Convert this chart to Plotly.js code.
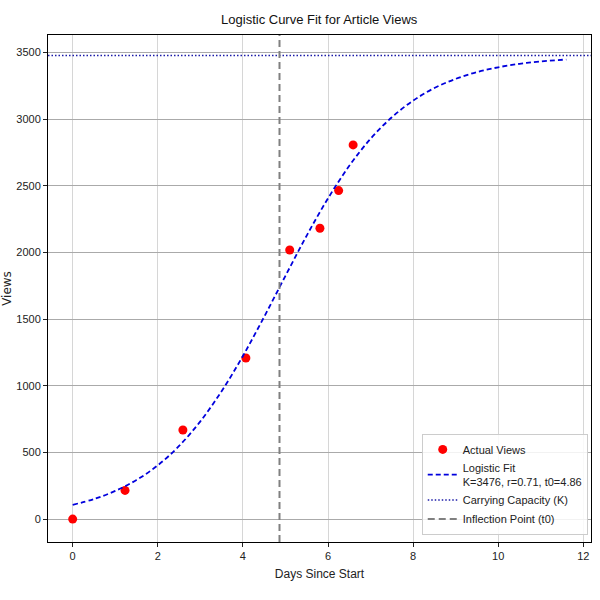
<!DOCTYPE html>
<html>
<head>
<meta charset="utf-8">
<script src="https://cdn.plot.ly/plotly-3.0.1.min.js"></script>
<style>
  html, body { margin: 0; padding: 0; background: #fff; }
  #chart { width: 600px; height: 600px; }
</style>
</head>
<body>
<div id="chart"></div>
<script>
const days = [0, 1.23, 2.59, 4.07, 5.10, 5.81, 6.25, 6.59];
const views = [0, 215, 668, 1208, 2018, 2181, 2463, 2806];

// fitted curve, sampled along the dashed line
const fitDays = [0, 0.5, 1, 1.5, 2, 2.5, 3, 3.5, 4, 4.5, 5, 5.5, 6, 6.5, 7, 7.5, 8, 8.5, 9, 9.5, 10, 10.5, 11, 11.6];
const fitViews = [107, 150, 211, 293, 403, 548, 733, 959, 1223, 1517, 1824, 2126, 2405, 2649, 2852, 3013, 3138, 3232, 3301, 3352, 3388, 3414, 3432, 3446];

const K = 3476;     // carrying capacity
const t0 = 4.86;    // inflection point
const fitLabel = "Logistic Fit<br>K=3476, r=0.71, t0=4.86";

const xTicks = [0, 2, 4, 6, 8, 10, 12];
const yTicks = [0, 500, 1000, 1500, 2000, 2500, 3000, 3500];

const FONT = "'Liberation Sans Narrow', 'Liberation Sans', Arial, sans-serif";

let traces = [
    {
        type: "scatter",
        mode: "markers",
        x: days,
        y: views,
        name: "Actual Views",
        marker: { color: "red", size: 9 }
    },
    {
        type: "scatter",
        mode: "lines",
        x: fitDays,
        y: fitViews,
        name: fitLabel,
        line: { color: "#0000dd", width: 1.8, dash: "5px,3px", shape: "spline" }
    },
    // legend-only entries for the reference lines (drawn as shapes)
    {
        type: "scatter",
        mode: "lines",
        x: [null],
        y: [null],
        name: "Carrying Capacity (K)",
        line: { color: "#1a1aa8", width: 1.6, dash: "1.5px,2px" }
    },
    {
        type: "scatter",
        mode: "lines",
        x: [null],
        y: [null],
        name: "Inflection Point (t0)",
        line: { color: "gray", width: 2, dash: "7px,4px" }
    }
];

let layout = {
    width: 600,
    height: 600,
    margin: { l: 48, r: 9, t: 35, b: 58 },
    paper_bgcolor: "white",
    plot_bgcolor: "white",
    font: { family: FONT, size: 11, color: "#222" },
    title: {
        text: "Logistic Curve Fit for Article Views",
        font: { family: FONT, size: 13, color: "#111" },
        x: 0.532,
        xanchor: "center",
        y: 0.967,
        yanchor: "middle"
    },
    xaxis: {
        title: { text: "Days Since Start", font: { family: FONT, size: 12 }, standoff: 8 },
        range: [-0.58, 12.18],
        tickvals: xTicks,
        ticks: "outside",
        ticklen: 4,
        tickcolor: "#222",
        showgrid: true,
        gridcolor: "#d6d6d6",
        gridwidth: 1,
        zeroline: false,
        showline: true,
        linecolor: "black",
        linewidth: 1,
        mirror: true
    },
    yaxis: {
        title: { text: "Views", font: { family: "'DejaVu Sans', sans-serif", size: 12 }, standoff: 4 },
        range: [-172, 3630],
        tickvals: yTicks,
        ticks: "outside",
        ticklen: 4,
        tickcolor: "#222",
        showgrid: true,
        gridcolor: "#aaaaaa",
        gridwidth: 1,
        zeroline: false,
        showline: true,
        linecolor: "black",
        linewidth: 1,
        mirror: true
    },
    shapes: [
        {
            type: "line",
            xref: "paper", x0: 0, x1: 1,
            yref: "y", y0: K, y1: K,
            line: { color: "#1a1aa8", width: 1.6, dash: "1.5px,2px" },
            layer: "above"
        },
        {
            type: "line",
            xref: "x", x0: t0, x1: t0,
            yref: "paper", y0: 0, y1: 1,
            line: { color: "gray", width: 2, dash: "7px,4px" },
            layer: "above"
        }
    ],
    legend: {
        x: 0.994,
        xanchor: "right",
        y: 0.014,
        yanchor: "bottom",
        bgcolor: "rgba(255,255,255,0.85)",
        bordercolor: "#cccccc",
        borderwidth: 1,
        font: { family: FONT, size: 11, color: "#222" },
        itemwidth: 30,
        tracegroupgap: 4
    },
    showlegend: true
};

Plotly.newPlot("chart", traces, layout, { displayModeBar: false, staticPlot: true });
</script>
</body>
</html>
